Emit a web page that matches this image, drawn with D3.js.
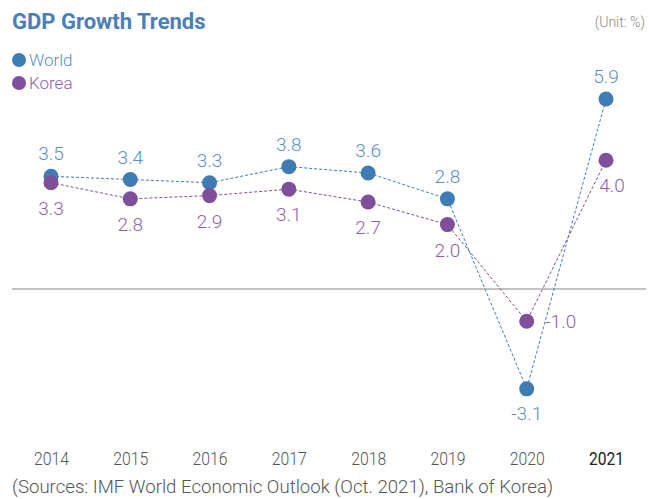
<!DOCTYPE html>
<html>
<head>
<meta charset="utf-8">
<script src="https://cdn.jsdelivr.net/npm/d3@7"></script>
<style>
  body { margin: 0; background: #fff; }
  text { font-family: Roboto, "Noto Sans", sans-serif; }
</style>
</head>
<body>
<svg id="chart" width="649" height="499"></svg>
<script>
// data
let years = ["2014", "2015", "2016", "2017", "2018", "2019", "2020", "2021"]
let world = [3.5, 3.4, 3.3, 3.8, 3.6, 2.8, -3.1, 5.9]
let korea = [3.3, 2.8, 2.9, 3.1, 2.7, 2.0, -1.0, 4.0]
let worldLabels = ["3.5", "3.4", "3.3", "3.8", "3.6", "2.8", "-3.1", "5.9"]
let koreaLabels = ["3.3", "2.8", "2.9", "3.1", "2.7", "2.0", "-1.0", "4.0"]

let worldColor = "#3f7cb4"
let koreaColor = "#7f4f9b"
let worldText = "#5b8fc6"
let koreaText = "#8f5fab"

let svg = d3.select("#chart")

let x = d3.scalePoint()
          .domain(years)
          .range([51, 606])

let y = d3.scaleLinear()
          .domain([0, 5.9])
          .range([289, 99])

// title + unit
svg.append("text")
   .attr("x", 12).attr("y", 29)
   .attr("font-size", 22).attr("font-weight", 700)
   .attr("fill", "#4a80b8")
   .text("GDP Growth Trends")

svg.append("text")
   .attr("x", 645).attr("y", 27)
   .attr("text-anchor", "end")
   .attr("font-size", 14).attr("font-weight", 300)
   .attr("fill", "#888")
   .text("(Unit: %)")

// legend
let legend = [{name: "World", c: worldColor, t: worldText}, {name: "Korea", c: koreaColor, t: koreaText}]
legend.forEach(function(d, i){
    svg.append("circle")
       .attr("cx", 19).attr("cy", 60 + i * 23).attr("r", 7)
       .attr("fill", d.c)
    svg.append("text")
       .attr("x", 29).attr("y", 66 + i * 23)
       .attr("font-size", 17).attr("font-weight", 300)
       .attr("fill", d.t)
       .text(d.name)
})

// zero line
svg.append("line")
   .attr("x1", 12).attr("x2", 646)
   .attr("y1", y(0)).attr("y2", y(0))
   .attr("stroke", "#888").attr("stroke-width", 1.2)

// x axis labels
let xAxis = svg.append("g")
               .attr("transform", "translate(0,465)")
               .call(d3.axisBottom(x).tickSize(0).tickPadding(0))
xAxis.select(".domain").remove()
xAxis.selectAll("text")
     .attr("y", 0)
     .attr("dy", null)
     .attr("font-size", 18)
     .attr("font-family", "Roboto, sans-serif")
     .attr("textLength", 35)
     .attr("lengthAdjust", "spacingAndGlyphs")
     .attr("fill", function(d){ return d == "2021" ? "#222" : "#555" })
     .attr("font-weight", function(d){ return d == "2021" ? 400 : 300 })

// lines
let line = d3.line()
             .x(function(d, i){ return x(years[i]) })
             .y(function(d){ return y(d) })

svg.append("path")
   .datum(world)
   .attr("d", line)
   .attr("fill", "none")
   .attr("stroke", worldColor)
   .attr("stroke-width", 1)
   .attr("stroke-dasharray", "3,2")

svg.append("path")
   .datum(korea)
   .attr("d", line)
   .attr("fill", "none")
   .attr("stroke", koreaColor)
   .attr("stroke-width", 1)
   .attr("stroke-dasharray", "3,2")

// dots
svg.selectAll(".wdot")
   .data(world)
   .enter()
   .append("circle")
   .attr("cx", function(d, i){ return x(years[i]) })
   .attr("cy", function(d){ return y(d) })
   .attr("r", 7.5)
   .attr("fill", worldColor)

svg.selectAll(".kdot")
   .data(korea)
   .enter()
   .append("circle")
   .attr("cx", function(d, i){ return x(years[i]) })
   .attr("cy", function(d){ return y(d) })
   .attr("r", 7.5)
   .attr("fill", koreaColor)

// value labels
svg.selectAll(".wlab")
   .data(world)
   .enter()
   .append("text")
   .attr("x", function(d, i){ return x(years[i]) })
   .attr("y", function(d, i){ return d < 0 ? y(d) + 31 : y(d) - 16 })
   .attr("text-anchor", "middle")
   .attr("font-size", 19).attr("font-weight", 300)
   .attr("fill", worldText)
   .text(function(d, i){ return worldLabels[i] })

svg.selectAll(".klab")
   .data(korea)
   .enter()
   .append("text")
   .attr("x", function(d, i){
       if (i == 6) return x(years[i]) + 34
       if (i == 7) return x(years[i]) + 6
       return x(years[i])
   })
   .attr("y", function(d, i){
       if (i == 6) return y(d) + 7
       return y(d) + 32
   })
   .attr("text-anchor", "middle")
   .attr("font-size", 19).attr("font-weight", 300)
   .attr("fill", koreaText)
   .text(function(d, i){ return koreaLabels[i] })

// source
svg.append("text")
   .attr("x", 12).attr("y", 493)
   .attr("font-size", 18).attr("font-weight", 300)
   .attr("fill", "#555")
   .attr("textLength", 541)
   .attr("lengthAdjust", "spacingAndGlyphs")
   .text("(Sources: IMF World Economic Outlook (Oct. 2021), Bank of Korea)")
</script>
</body>
</html>
